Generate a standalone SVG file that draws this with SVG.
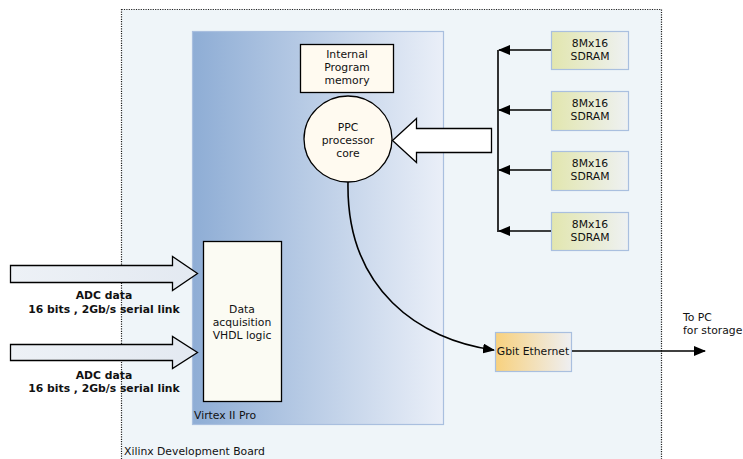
<svg xmlns="http://www.w3.org/2000/svg" width="743" height="459" viewBox="0 0 743 459">
<style>
text{font-family:"DejaVu Sans",Verdana,sans-serif;font-size:10.8px;fill:#111}
.b{font-weight:bold;font-size:10.8px}
.m{text-anchor:middle}
.ln{fill:none;stroke:#000;stroke-width:1.6}
.hollow{fill:#fff;stroke:#000;stroke-width:1.3}
.sd{fill:url(#gs);stroke:#a9bfdf;stroke-width:1.2}
</style>
<defs>
<linearGradient id="gv" x1="0" y1="0" x2="1" y2="0"><stop offset="0" stop-color="#8eadd5"/><stop offset="1" stop-color="#eaeff8"/></linearGradient>
<linearGradient id="gs" x1="0" y1="0" x2="1" y2="0"><stop offset="0" stop-color="#e2e6ae"/><stop offset="1" stop-color="#eef1f3"/></linearGradient>
<linearGradient id="ge" x1="0" y1="0" x2="1" y2="0"><stop offset="0" stop-color="#f8d17e"/><stop offset="1" stop-color="#eeeff2"/></linearGradient>
<linearGradient id="ga" x1="0" y1="0" x2="1" y2="0"><stop offset="0" stop-color="#edf1f6"/><stop offset="1" stop-color="#e3e9f1"/></linearGradient>
<marker id="ah" viewBox="0 0 12 10" refX="11" refY="5" markerWidth="12" markerHeight="10" markerUnits="userSpaceOnUse" orient="auto"><path d="M0,0 L12,5 L0,10 z" fill="#000"/></marker>
</defs>
<g id="board">
<rect x="121.5" y="9.5" width="540" height="460" fill="#eff5f9" stroke="#222" stroke-width="1.2" stroke-dasharray="1.2,1.2"/>
<text x="124" y="455">Xilinx Development Board</text>
</g>
<g id="virtex">
<rect x="192.5" y="31.5" width="251" height="393" fill="url(#gv)" stroke="#a9bfdf" stroke-width="1.2"/>
<text x="194" y="419">Virtex II Pro</text>
</g>
<g id="memory">
<rect x="300.5" y="44.5" width="93" height="48" fill="#fffaf0" stroke="#000" stroke-width="1.3"/>
<text class="m" x="347" y="58">Internal</text>
<text class="m" x="347" y="71">Program</text>
<text class="m" x="347" y="84">memory</text>
</g>
<g id="ppc">
<ellipse cx="348" cy="139" rx="44" ry="43" fill="#fffaf0" stroke="#000" stroke-width="1.3"/>
<text class="m" x="348" y="131">PPC</text>
<text class="m" x="348" y="144">processor</text>
<text class="m" x="348" y="157">core</text>
</g>
<g id="daq">
<rect x="203.5" y="241.5" width="78" height="160" fill="#fbfbf3" stroke="#000" stroke-width="1.3"/>
<text class="m" x="242" y="313">Data</text>
<text class="m" x="242" y="326">acquisition</text>
<text class="m" x="242" y="339">VHDL logic</text>
</g>
<g id="sdram1"><rect class="sd" x="551.5" y="31.5" width="77" height="38"/><text class="m" x="590" y="47">8Mx16</text><text class="m" x="590" y="60">SDRAM</text></g>
<g id="sdram2"><rect class="sd" x="551.5" y="91.5" width="77" height="39"/><text class="m" x="590" y="107">8Mx16</text><text class="m" x="590" y="120">SDRAM</text></g>
<g id="sdram3"><rect class="sd" x="551.5" y="151.5" width="77" height="39"/><text class="m" x="590" y="167">8Mx16</text><text class="m" x="590" y="180">SDRAM</text></g>
<g id="sdram4"><rect class="sd" x="551.5" y="212.5" width="77" height="38"/><text class="m" x="590" y="228">8Mx16</text><text class="m" x="590" y="241">SDRAM</text></g>
<g id="ethernet">
<rect x="495.5" y="332.5" width="76" height="39" fill="url(#ge)" stroke="#a9bfdf" stroke-width="1.2"/>
<text class="m" x="533" y="355">Gbit Ethernet</text>
</g>
<g id="labels">
<text class="b m" x="104" y="299">ADC data</text>
<text class="b m" x="104" y="313">16 bits , 2Gb/s serial link</text>
<text class="b m" x="104" y="379">ADC data</text>
<text class="b m" x="104" y="392">16 bits , 2Gb/s serial link</text>
<text x="683" y="321">To PC</text>
<text x="683" y="334">for storage</text>
</g>
<g id="connectors">
<path d="M10.5,265.5 H172.5 V256.5 L197.5,273.5 L172.5,290.5 V282.5 H10.5 z" fill="url(#ga)" stroke="#000" stroke-width="1.3"/>
<path d="M10.5,344.5 H172.5 V336.5 L197.5,352.5 L172.5,368.5 V360.5 H10.5 z" fill="url(#ga)" stroke="#000" stroke-width="1.3"/>
<path class="hollow" d="M491.5,128.5 H416.5 V118.5 L392.5,140.5 L416.5,162.5 V152.5 H491.5 z"/>
<path class="ln" d="M498,50 V232"/>
<path class="ln" d="M551,50 H499" marker-end="url(#ah)"/>
<path class="ln" d="M551,110 H499" marker-end="url(#ah)"/>
<path class="ln" d="M551,170 H499" marker-end="url(#ah)"/>
<path class="ln" d="M551,231 H499" marker-end="url(#ah)"/>
<path class="ln" d="M348,182 C346,290 420,340 494,350" marker-end="url(#ah)"/>
<path class="ln" d="M572,351 H705" marker-end="url(#ah)"/>
</g>
</svg>
